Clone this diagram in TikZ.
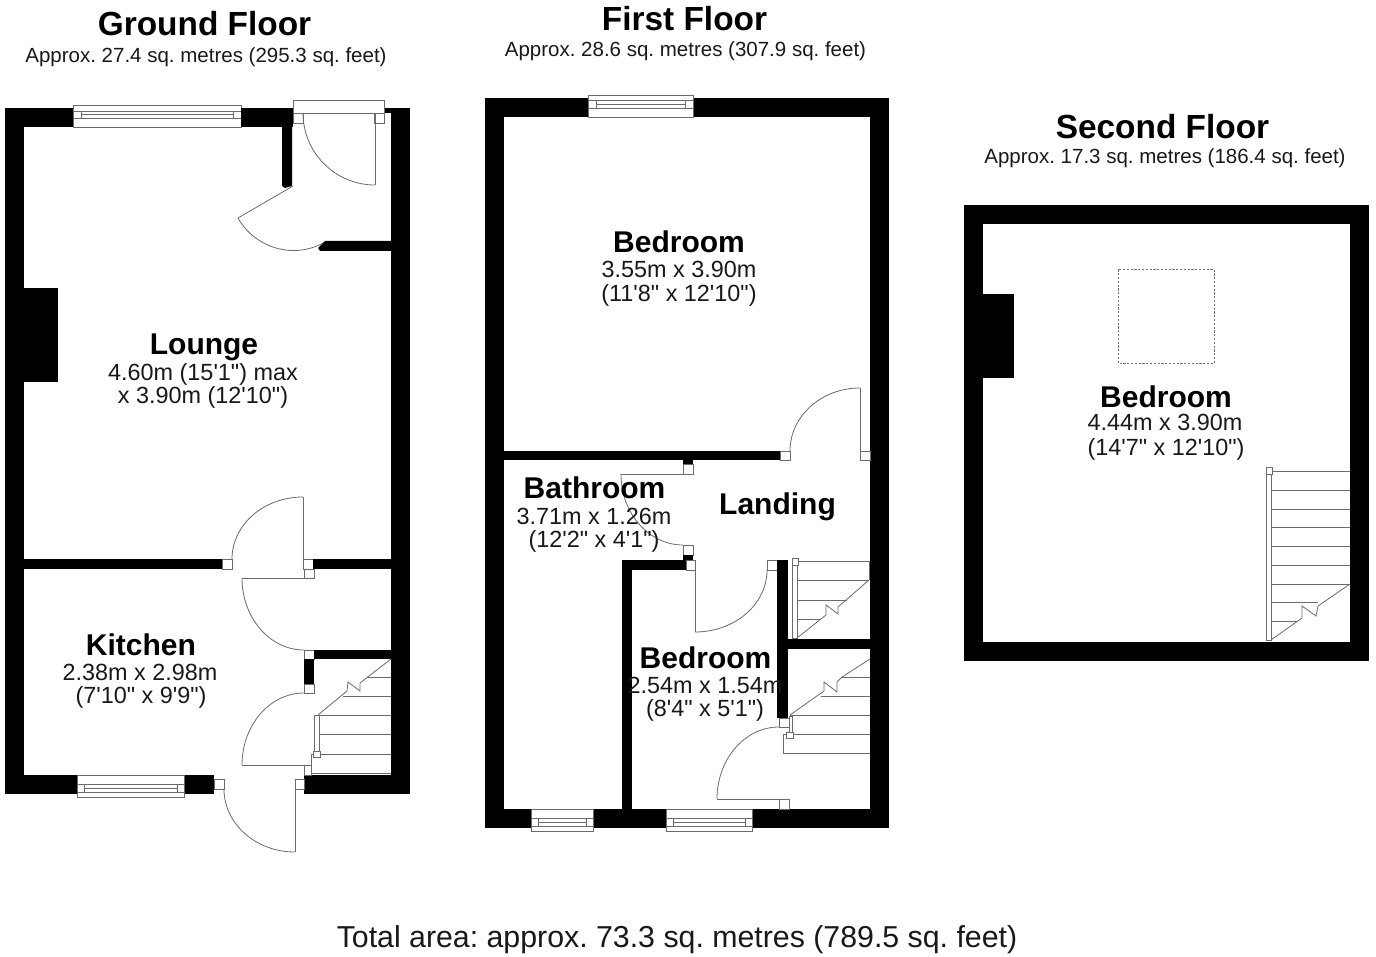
\documentclass[tikz,border=0pt]{standalone}
\usepackage{fontspec}
\newfontfamily\lib{Liberation Sans}
\usetikzlibrary{calc}
\tikzset{
  wall/.style={fill=black,draw=none},
  clear/.style={fill=white,draw=none},
  thin line/.style={draw=black!58,line width=0.8pt},
  jamb/.style={fill=white,draw=black!58,line width=0.8pt},
  floortitle/.style={anchor=base,inner sep=0,font=\lib\fontsize{33.4}{33.4}\selectfont\bfseries},
  roomtitle/.style={anchor=base,inner sep=0,font=\lib\fontsize{30}{30}\selectfont\bfseries},
  dims/.style={anchor=base,inner sep=0,font=\lib\fontsize{23.4}{23.4}\selectfont,text=black!90},
  subt/.style={anchor=base,inner sep=0,font=\lib\fontsize{20.5}{20.5}\selectfont,text=black!90},
  total/.style={anchor=base,inner sep=0,font=\lib\fontsize{30.3}{30.3}\selectfont,text=black!90}
}
\frenchspacing
% quarter ellipse from (x1,y1) to (x2,y2), bulging towards corner (cx,cy)
\newcommand\qarc[6]{(#1,#2) .. controls ($(#1,#2)!0.5523!(#5,#6)$) and ($(#3,#4)!0.5523!(#5,#6)$) .. (#3,#4)}
% window: x1 x2 ytop yinner1 yinner2 ybottom, end-square width
\newcommand\wndw[7]{%
  \fill[white] (#1,#3) rectangle (#2,#6);
  \draw[thin line] (#1,#3) rectangle (#2,#6);
  \draw[thin line] (#1,#4) -- (#2,#4) (#1,#5) -- (#2,#5);
  \draw[thin line] ({#1+#7},#4) -- ({#1+#7},#5) ({#2-#7},#4) -- ({#2-#7},#5);
  \draw[thin line] ({#1+#7},{(#4+#5)/2}) -- ({#2-#7},{(#4+#5)/2});
}
\begin{document}
\begin{tikzpicture}[x=1pt,y=-1pt]
\fill[white] (0,0) rectangle (1376,957);
\path[use as bounding box] (0,0) rectangle (1376,957);

%%% GROUND FLOOR
\fill[wall] (5,108) rectangle (410,794);
\fill[clear] (24,127) rectangle (391,775);
\fill[wall] (24,288) rectangle (58,382);
% top window
\wndw{73}{241}{105}{111}{118}{127}{8}
% porch opening
\fill[clear] (293,108) rectangle (384,127);
\fill[clear] (384,113) rectangle (391,127);
\fill[wall] (241,108) rectangle (293,127);
\draw[jamb] (293,100) rectangle (384,113);
\draw[jamb] (293,113) rectangle (303,123);
\draw[jamb] (374,113) rectangle (384,123);
\draw[thin line] (375,113) -- (375,185);
\draw[thin line] \qarc{303}{113}{375}{185}{303}{185};
% partition beside porch
\fill[wall] (282,127) -- (292,127) -- (292,186) -- (285,188) -- (282,186) -- cycle;
\draw[thin line] (293,186) -- (238,218);
\draw[thin line] \qarc{238}{218}{325}{242}{270}{274};
\fill[wall] (325,241) -- (391,241) -- (391,251) -- (320,251) -- (318,248) -- cycle;
% lounge / kitchen wall
\fill[wall] (24,559) rectangle (222,569);
\draw[jamb] (222,559) rectangle (232,569);
\draw[thin line] \qarc{232}{559}{303}{497}{232}{497};
\draw[thin line] (303,497) -- (303,559);
\draw[jamb] (303,559) rectangle (313,569);
\fill[wall] (313,559) rectangle (391,569);
\draw[jamb] (304,569) rectangle (314,578);
\draw[thin line] (304,578) -- (242,578);
\draw[thin line] \qarc{242}{578}{304}{650}{242}{650};
\draw[jamb] (304,650) rectangle (314,659);
\fill[wall] (314,650) rectangle (391,659);
\fill[wall] (304,659) rectangle (314,684);
\draw[jamb] (304,684) rectangle (314,693);
\draw[thin line] \qarc{304}{693}{242}{765}{242}{693};
\draw[thin line] (242,765) -- (304,765);
\draw[jamb] (304,765) rectangle (311,775);
% ground stairs
\draw[thin line] (367,677) -- (391,677) (343,696) -- (391,696) (319,715) -- (391,715) (319,734) -- (391,734) (311,754) -- (391,754) (311,754) -- (311,773) -- (391,773);
\draw[thin line] (314,715) rectangle (319,752);
\draw[jamb] (313,751) rectangle (320,757);
\draw[thin line] (391,659) -- (360,683) -- (360,691) -- (348,682) -- (347,691) -- (318,715);
% back door
\fill[clear] (214,775) rectangle (304,794);
\draw[jamb] (214,779) rectangle (224,789);
\draw[jamb] (295,779) rectangle (304,789);
\draw[thin line] (295,789) -- (295,852);
\draw[thin line] \qarc{224}{789}{295}{852}{224}{852};
% bottom window
\wndw{77}{184}{775}{784}{792}{797}{7}

%%% FIRST FLOOR
\fill[wall] (485,98) rectangle (889,828);
\fill[clear] (504,117) rectangle (870,809);
\wndw{588}{693}{95}{100}{108}{117}{8}
\fill[wall] (504,451) rectangle (780,460);
\draw[jamb] (780,451) rectangle (790,460);
\draw[thin line] \qarc{790}{451}{860}{388}{790}{388};
\draw[thin line] (860,388) -- (860,451);
\draw[jamb] (860,451) rectangle (870,460);
% bathroom door
\fill[wall] (683,460) rectangle (693,464);
\draw[jamb] (683,464) rectangle (693,474);
\draw[thin line] (683,474) -- (621,474);
\draw[thin line] \qarc{621}{474}{683}{545}{621}{545};
\draw[jamb] (683,545) rectangle (693,555);
\fill[wall] (683,555) rectangle (693,560);
% rear bedroom walls
\fill[wall] (622,560) rectangle (686,570);
\fill[wall] (622,560) rectangle (632,809);
\draw[jamb] (686,560) rectangle (695,570);
\draw[thin line] (695,570) -- (695,632);
\draw[thin line] \qarc{695}{632}{767}{570}{767}{632};
\draw[jamb] (767,560) rectangle (777,570);
\fill[wall] (777,560) rectangle (788,718);
% landing stairs
\draw[thin line] (798,561) -- (869,561) -- (869,580) (797,580) -- (869,580) (797,600) -- (847,600) (797,619) -- (821,619);
\draw[thin line] (792,564) rectangle (797,638);
\draw[jamb] (792,558) rectangle (798,565);
\draw[thin line] (869,580) -- (838,607) -- (838,614) -- (826,605) -- (826,615) -- (797,638);
% wall between stairs
\fill[wall] (788,639) rectangle (870,649);
% lower stairs
\draw[thin line] (842,677) -- (870,677) (821,696) -- (870,696) (790,715) -- (870,715) (793,734) -- (870,734) (783,753) -- (870,753);
\draw[thin line] (786,734) -- (783,734) -- (783,753);
\draw[thin line] (789,716) rectangle (792,733);
\draw[jamb] (786,732) rectangle (793,738);
\draw[thin line] (870,659) -- (842,677) -- (837,682) -- (837,692) -- (824,682) -- (824,691) -- (790,715);
\draw[jamb] (779,718) rectangle (789,727);
\draw[thin line] \qarc{779}{727}{717}{799}{717}{727};
\draw[thin line] (717,799) -- (779,799);
\draw[jamb] (779,799) rectangle (789,809);
% bottom windows
\wndw{531}{593}{809}{818}{826}{831}{7}
\wndw{666}{752}{809}{818}{826}{831}{7}

%%% SECOND FLOOR
\fill[wall] (964,205) rectangle (1369,661);
\fill[clear] (983,224) rectangle (1350,642);
\fill[wall] (983,294) rectangle (1014,378);
\draw[draw=black!55,line width=0.8pt,dash pattern=on 2.2pt off 1.6pt] (1118.5,269.5) rectangle (1214,363.5);
\draw[thin line] (1272,471) -- (1350,471) (1271,490) -- (1350,490) (1271,509) -- (1350,509) (1271,527) -- (1350,527) (1271,546) -- (1350,546) (1271,565) -- (1350,565) (1271,584) -- (1350,584) (1271,602) -- (1318,602) (1271,621) -- (1297,621);
\draw[thin line] (1266,474) rectangle (1271,640);
\draw[jamb] (1266,467) rectangle (1272,474);
\draw[thin line] (1350,584) -- (1318,606) -- (1316,616) -- (1302,606) -- (1302,618) -- (1271,640);

%%% TEXT
\node[floortitle] (gf) at (204.5,36) {Ground Floor};
\node[subt] (gfs) at (206,63) {Approx. 27.4 sq. metres (295.3 sq. feet)};
\node[floortitle] (ff) at (684.5,30.5) {First Floor};
\node[subt] (ffs) at (685.5,56.5) {Approx. 28.6 sq. metres (307.9 sq. feet)};
\node[floortitle] (sf) at (1162.5,138.5) {Second Floor};
\node[subt] (sfs) at (1165,164) {Approx. 17.3 sq. metres (186.4 sq. feet)};
\node[roomtitle] (lounge) at (204,354.5) {Lounge};
\node[dims] (lounge1) at (203,381) {4.60m (15'1") max};
\node[dims] (lounge2) at (203,403) {x 3.90m (12'10")};
\node[roomtitle] (kitchen) at (141,655) {Kitchen};
\node[dims] (kitchen1) at (140,680) {2.38m x 2.98m};
\node[dims] (kitchen2) at (141,703.5) {(7'10" x 9'9")};
\node[roomtitle] (bed1) at (679,253) {Bedroom};
\node[dims] (bed1a) at (679,278) {3.55m x 3.90m};
\node[dims] (bed1b) at (679,302) {(11'8" x 12'10")};
\node[roomtitle] (bath) at (594.5,498) {Bathroom};
\node[dims] (batha) at (594,524) {3.71m x 1.26m};
\node[dims] (bathb) at (594,547) {(12'2" x 4'1")};
\node[roomtitle] (landing) at (777.5,514) {Landing};
\node[roomtitle] (bed2) at (705.5,668) {Bedroom};
\node[dims] (bed2a) at (705,693) {2.54m x 1.54m};
\node[dims] (bed2b) at (705,716) {(8'4" x 5'1")};
\node[roomtitle] (bed3) at (1166,407) {Bedroom};
\node[dims] (bed3a) at (1165,431) {4.44m x 3.90m};
\node[dims] (bed3b) at (1166,455) {(14'7" x 12'10")};
\node[total] (tot) at (677,947) {Total area: approx. 73.3 sq. metres (789.5 sq. feet)};
\end{tikzpicture}
\end{document}
